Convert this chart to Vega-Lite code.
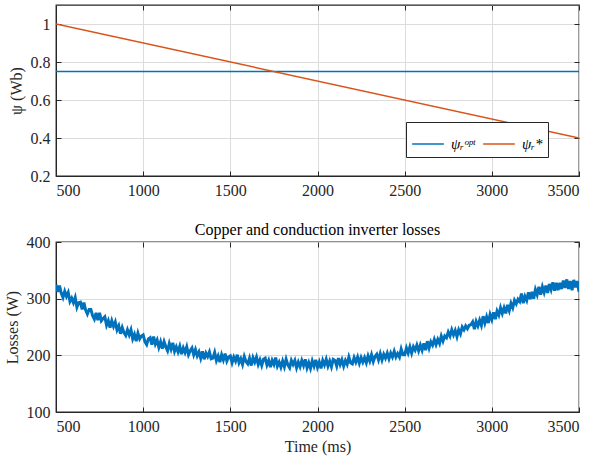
{
  "$schema": "https://vega.github.io/schema/vega-lite/v6.json",
  "background": "white",
  "padding": {"left": 3, "top": 3, "right": 16, "bottom": 5},
  "spacing": 22,
  "config": {
    "font": "Liberation Serif",
    "view": {"stroke": "#262626", "strokeWidth": 1.3},
    "axis": {
      "labelFont": "Liberation Serif", "labelFontSize": 16, "labelColor": "#262626",
      "titleFont": "Liberation Serif", "titleFontSize": 16, "titleFontWeight": "normal", "titleColor": "#262626",
      "domainColor": "#262626", "tickColor": "#262626", "tickSize": -5,
      "gridColor": "#dcdcdc", "gridOpacity": 1, "labelPadding": 11
    },
    "title": {"font": "Liberation Serif", "fontSize": 16, "fontWeight": "normal", "color": "#000000"}
  },
  "datasets": {
    "flux": [
      {"t": 500, "psi": 0.75, "series": "ψᵣᵒᵖᵗ"},
      {"t": 3500, "psi": 0.75, "series": "ψᵣᵒᵖᵗ"},
      {"t": 500, "psi": 1.0, "series": "ψᵣ*"},
      {"t": 3500, "psi": 0.4, "series": "ψᵣ*"}
    ],
    "loss": [
      {"t":500,"p":325},{"t":510,"p":312},{"t":520,"p":323},{"t":530,"p":310},{"t":540,"p":302},{"t":550,"p":313},{"t":560,"p":304},{"t":570,"p":311},{"t":580,"p":295},{"t":590,"p":301},
      {"t":600,"p":293},{"t":610,"p":302},{"t":620,"p":285},{"t":630,"p":293},{"t":640,"p":294},{"t":650,"p":281},{"t":660,"p":293},{"t":670,"p":280},{"t":680,"p":273},{"t":690,"p":281},
      {"t":700,"p":281},{"t":710,"p":270},{"t":720,"p":264},{"t":730,"p":275},{"t":740,"p":262},{"t":750,"p":275},{"t":760,"p":261},{"t":770,"p":265},{"t":780,"p":268},{"t":790,"p":253},
      {"t":800,"p":261},{"t":810,"p":249},{"t":820,"p":261},{"t":830,"p":251},{"t":840,"p":259},{"t":850,"p":245},{"t":860,"p":252},{"t":870,"p":238},{"t":880,"p":249},{"t":890,"p":240},
      {"t":900,"p":235},{"t":910,"p":245},{"t":920,"p":236},{"t":930,"p":245},{"t":940,"p":229},{"t":950,"p":237},{"t":960,"p":225},{"t":970,"p":239},{"t":980,"p":229},{"t":990,"p":234},
      {"t":1000,"p":236},{"t":1010,"p":224},{"t":1020,"p":219},{"t":1030,"p":229},{"t":1040,"p":231},{"t":1050,"p":219},{"t":1060,"p":233},{"t":1070,"p":220},{"t":1080,"p":227},{"t":1090,"p":214},
      {"t":1100,"p":224},{"t":1110,"p":212},{"t":1120,"p":224},{"t":1130,"p":215},{"t":1140,"p":208},{"t":1150,"p":221},{"t":1160,"p":211},{"t":1170,"p":222},{"t":1180,"p":207},{"t":1190,"p":215},
      {"t":1200,"p":206},{"t":1210,"p":216},{"t":1220,"p":202},{"t":1230,"p":213},{"t":1240,"p":205},{"t":1250,"p":215},{"t":1260,"p":201},{"t":1270,"p":208},{"t":1280,"p":213},{"t":1290,"p":201},
      {"t":1300,"p":210},{"t":1310,"p":199},{"t":1320,"p":206},{"t":1330,"p":195},{"t":1340,"p":207},{"t":1350,"p":193},{"t":1360,"p":204},{"t":1370,"p":198},{"t":1380,"p":206},{"t":1390,"p":194},
      {"t":1400,"p":195},{"t":1410,"p":205},{"t":1420,"p":191},{"t":1430,"p":199},{"t":1440,"p":188},{"t":1450,"p":201},{"t":1460,"p":192},{"t":1470,"p":203},{"t":1480,"p":190},{"t":1490,"p":197},
      {"t":1500,"p":199},{"t":1510,"p":187},{"t":1520,"p":197},{"t":1530,"p":190},{"t":1540,"p":201},{"t":1550,"p":187},{"t":1560,"p":194},{"t":1570,"p":184},{"t":1580,"p":198},{"t":1590,"p":189},
      {"t":1600,"p":185},{"t":1610,"p":195},{"t":1620,"p":182},{"t":1630,"p":196},{"t":1640,"p":188},{"t":1650,"p":197},{"t":1660,"p":184},{"t":1670,"p":192},{"t":1680,"p":182},{"t":1690,"p":193},
      {"t":1700,"p":195},{"t":1710,"p":183},{"t":1720,"p":191},{"t":1730,"p":179},{"t":1740,"p":191},{"t":1750,"p":184},{"t":1760,"p":196},{"t":1770,"p":181},{"t":1780,"p":188},{"t":1790,"p":179},
      {"t":1800,"p":190},{"t":1810,"p":180},{"t":1820,"p":193},{"t":1830,"p":183},{"t":1840,"p":178},{"t":1850,"p":191},{"t":1860,"p":184},{"t":1870,"p":191},{"t":1880,"p":178},{"t":1890,"p":188},
      {"t":1900,"p":180},{"t":1910,"p":191},{"t":1920,"p":182},{"t":1930,"p":193},{"t":1940,"p":178},{"t":1950,"p":187},{"t":1960,"p":177},{"t":1970,"p":190},{"t":1980,"p":181},{"t":1990,"p":192},
      {"t":2000,"p":179},{"t":2010,"p":188},{"t":2020,"p":177},{"t":2030,"p":191},{"t":2040,"p":183},{"t":2050,"p":193},{"t":2060,"p":181},{"t":2070,"p":190},{"t":2080,"p":180},{"t":2090,"p":193},
      {"t":2100,"p":191},{"t":2110,"p":181},{"t":2120,"p":195},{"t":2130,"p":184},{"t":2140,"p":192},{"t":2150,"p":181},{"t":2160,"p":191},{"t":2170,"p":184},{"t":2180,"p":197},{"t":2190,"p":187},
      {"t":2200,"p":185},{"t":2210,"p":196},{"t":2220,"p":188},{"t":2230,"p":197},{"t":2240,"p":186},{"t":2250,"p":196},{"t":2260,"p":188},{"t":2270,"p":196},{"t":2280,"p":187},{"t":2290,"p":199},
      {"t":2300,"p":190},{"t":2310,"p":201},{"t":2320,"p":189},{"t":2330,"p":198},{"t":2340,"p":202},{"t":2350,"p":192},{"t":2360,"p":203},{"t":2370,"p":192},{"t":2380,"p":202},{"t":2390,"p":195},
      {"t":2400,"p":204},{"t":2410,"p":194},{"t":2420,"p":204},{"t":2430,"p":197},{"t":2440,"p":207},{"t":2450,"p":197},{"t":2460,"p":203},{"t":2470,"p":197},{"t":2480,"p":211},{"t":2490,"p":201},
      {"t":2500,"p":201},{"t":2510,"p":213},{"t":2520,"p":204},{"t":2530,"p":215},{"t":2540,"p":204},{"t":2550,"p":215},{"t":2560,"p":209},{"t":2570,"p":218},{"t":2580,"p":208},{"t":2590,"p":218},
      {"t":2600,"p":209},{"t":2610,"p":221},{"t":2620,"p":209},{"t":2630,"p":225},{"t":2640,"p":213},{"t":2650,"p":224},{"t":2660,"p":218},{"t":2670,"p":228},{"t":2680,"p":219},{"t":2690,"p":228},
      {"t":2700,"p":221},{"t":2710,"p":234},{"t":2720,"p":225},{"t":2730,"p":234},{"t":2740,"p":231},{"t":2750,"p":241},{"t":2760,"p":234},{"t":2770,"p":245},{"t":2780,"p":236},{"t":2790,"p":244},
      {"t":2800,"p":233},{"t":2810,"p":245},{"t":2820,"p":238},{"t":2830,"p":250},{"t":2840,"p":245},{"t":2850,"p":252},{"t":2860,"p":247},{"t":2870,"p":253},{"t":2880,"p":254},{"t":2890,"p":259},
      {"t":2900,"p":246},{"t":2910,"p":260},{"t":2920,"p":252},{"t":2930,"p":262},{"t":2940,"p":253},{"t":2950,"p":269},{"t":2960,"p":257},{"t":2970,"p":268},{"t":2980,"p":257},{"t":2990,"p":272},
      {"t":3000,"p":263},{"t":3010,"p":276},{"t":3020,"p":264},{"t":3030,"p":278},{"t":3040,"p":271},{"t":3050,"p":284},{"t":3060,"p":274},{"t":3070,"p":284},{"t":3080,"p":274},{"t":3090,"p":289},
      {"t":3100,"p":279},{"t":3110,"p":292},{"t":3120,"p":284},{"t":3130,"p":297},{"t":3140,"p":291},{"t":3150,"p":299},{"t":3160,"p":295},{"t":3170,"p":309},{"t":3180,"p":292},{"t":3190,"p":304},
      {"t":3200,"p":297},{"t":3210,"p":311},{"t":3220,"p":299},{"t":3230,"p":312},{"t":3240,"p":300},{"t":3250,"p":316},{"t":3260,"p":307},{"t":3270,"p":321},{"t":3280,"p":307},{"t":3290,"p":321},
      {"t":3300,"p":311},{"t":3310,"p":323},{"t":3320,"p":310},{"t":3330,"p":326},{"t":3340,"p":316},{"t":3350,"p":329},{"t":3360,"p":314},{"t":3370,"p":328},{"t":3380,"p":315},{"t":3390,"p":328},
      {"t":3400,"p":317},{"t":3410,"p":332},{"t":3420,"p":319},{"t":3430,"p":334},{"t":3440,"p":317},{"t":3450,"p":331},{"t":3460,"p":315},{"t":3470,"p":333},{"t":3480,"p":320},{"t":3490,"p":331},
      {"t":3500,"p":312}
    ]
  },
  "vconcat": [
    {
      "width": 523,
      "height": 171,
      "data": {"name": "flux"},
      "resolve": {"axis": {"x": "independent", "y": "independent"}},
      "layer": [
        {
          "mark": {"type": "line", "strokeWidth": 1.5, "clip": true},
          "encoding": {
            "x": {"field": "t", "type": "quantitative", "scale": {"domain": [500, 3500], "nice": false},
                  "axis": {"values": [500,1000,1500,2000,2500,3000,3500], "format": "d", "title": null}},
            "y": {"field": "psi", "type": "quantitative", "scale": {"domain": [0.2, 1.1], "nice": false, "zero": false},
                  "axis": {"values": [0.2,0.4,0.6,0.8,1.0], "format": "~g", "title": "ψ (Wb)", "titlePadding": 6}},
            "color": {"field": "series", "type": "nominal",
                      "scale": {"domain": ["ψᵣᵒᵖᵗ", "ψᵣ*"], "range": ["#0072BD", "#D95319"]},
                      "legend": {"title": null, "orient": "none", "legendX": 350, "legendY": 117, "direction": "horizontal",
                                 "fillColor": "white", "strokeColor": "#262626", "padding": 5,
                                 "symbolType": "stroke", "symbolSize": 1000, "symbolStrokeWidth": 1.5,
                                 "labelFont": "Liberation Serif", "labelFontSize": 15, "labelFontStyle": "italic", "columnPadding": 4, "labelOffset": 6}}
          }
        },
        {
          "mark": {"type": "line", "opacity": 0},
          "encoding": {
            "x": {"field": "t", "type": "quantitative",
                  "axis": {"orient": "top", "values": [500,1000,1500,2000,2500,3000,3500], "labels": false, "grid": false, "domain": false, "title": null}},
            "y": {"field": "psi", "type": "quantitative",
                  "axis": {"orient": "right", "values": [0.2,0.4,0.6,0.8,1.0], "labels": false, "grid": false, "domain": false, "title": null}},
            "detail": {"field": "series", "type": "nominal"}
          }
        }
      ]
    },
    {
      "width": 523,
      "height": 170,
      "title": {"text": "Copper and conduction inverter losses", "offset": -4},
      "data": {"name": "loss"},
      "resolve": {"axis": {"x": "independent", "y": "independent"}},
      "layer": [
        {
          "mark": {"type": "line", "strokeWidth": 3, "color": "#0072BD", "clip": true},
          "encoding": {
            "x": {"field": "t", "type": "quantitative", "scale": {"domain": [500, 3500], "nice": false},
                  "axis": {"values": [500,1000,1500,2000,2500,3000,3500], "format": "d", "title": "Time (ms)", "titlePadding": 4}},
            "y": {"field": "p", "type": "quantitative", "scale": {"domain": [100, 400], "nice": false, "zero": false},
                  "axis": {"values": [100,200,300,400], "title": "Losses (W)", "titlePadding": 6}}
          }
        },
        {
          "mark": {"type": "line", "opacity": 0},
          "encoding": {
            "x": {"field": "t", "type": "quantitative",
                  "axis": {"orient": "top", "values": [500,1000,1500,2000,2500,3000,3500], "labels": false, "grid": false, "domain": false, "title": null}},
            "y": {"field": "p", "type": "quantitative",
                  "axis": {"orient": "right", "values": [100,200,300,400], "labels": false, "grid": false, "domain": false, "title": null}}
          }
        }
      ]
    }
  ]
}
